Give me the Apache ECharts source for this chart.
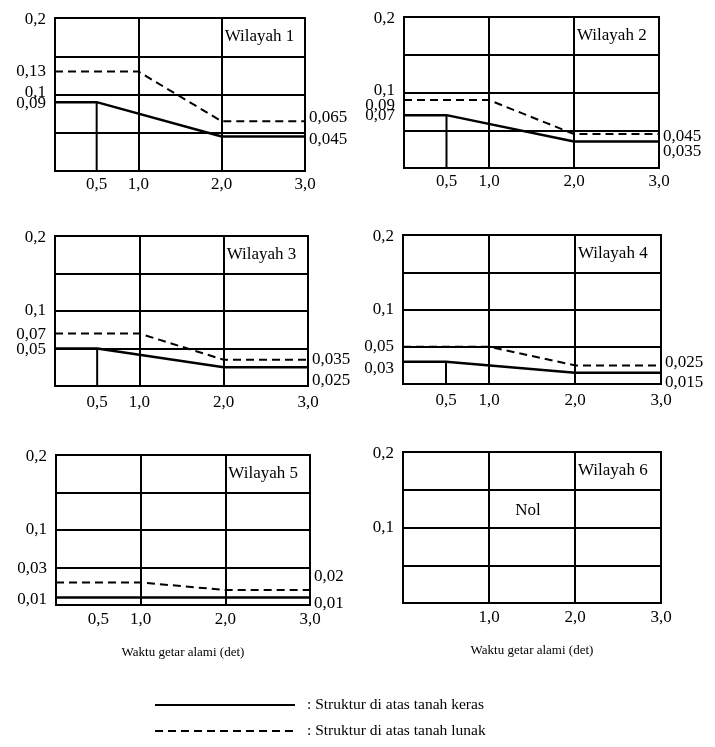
<!DOCTYPE html>
<html><head><meta charset="utf-8">
<script src="https://cdn.jsdelivr.net/npm/echarts@6/dist/echarts.min.js"></script>
<style>html,body{margin:0;padding:0;background:#fff}#c{width:715px;height:747px}</style>
</head><body><div id="c"></div>
<script>
// ---------- DATA ----------
const wilayahNames = ['Wilayah 1', 'Wilayah 2', 'Wilayah 3', 'Wilayah 4', 'Wilayah 5', 'Wilayah 6'];
const periodsKeras = [0, 0.5, 2.0, 3.0];   // Waktu getar alami (det)
const periodsLunak = [0, 1.0, 2.0, 3.0];
const kerasW1 = [0.09, 0.09, 0.045, 0.045];
const lunakW1 = [0.13, 0.13, 0.065, 0.065];
const kerasW2 = [0.07, 0.07, 0.035, 0.035];
const lunakW2 = [0.09, 0.09, 0.045, 0.045];
const kerasW3 = [0.05, 0.05, 0.025, 0.025];
const lunakW3 = [0.07, 0.07, 0.035, 0.035];
const kerasW4 = [0.03, 0.03, 0.015, 0.015];
const lunakW4 = [0.05, 0.05, 0.025, 0.025];
const kerasW5 = [0.01, 0.01, 0.01, 0.01];
const lunakW5 = [0.03, 0.03, 0.02, 0.02];
const kerasW6 = [];
const lunakW6 = [];
const leftTicksW1 = [0.2, 0.13, 0.1, 0.09];
const leftTicksW2 = [0.2, 0.1, 0.09, 0.07];
const leftTicksW3 = [0.2, 0.1, 0.07, 0.05];
const leftTicksW4 = [0.2, 0.1, 0.05, 0.03];
const leftTicksW5 = [0.2, 0.1, 0.03, 0.01];
const leftTicksW6 = [0.2, 0.1];
const rightTicksW1 = [0.065, 0.045];
const rightTicksW2 = [0.045, 0.035];
const rightTicksW3 = [0.035, 0.025];
const rightTicksW4 = [0.025, 0.015];
const rightTicksW5 = [0.02, 0.01];
const rightTicksW6 = [];
const xTicks = [0.5, 1.0, 2.0, 3.0];
const xTicksW6 = [1.0, 2.0, 3.0];
const centerNote = 'Nol';
const xAxisTitle = 'Waktu getar alami (det)';
const legendKeras = ': Struktur di atas tanah keras';
const legendLunak = ': Struktur di atas tanah lunak';

// ---------- LAYOUT (positions / label nudges, not data) ----------
const FONT = "'Liberation Serif','Times New Roman',serif";
const panels = [
  {keras: kerasW1, lunak: lunakW1, lt: leftTicksW1, rt: rightTicksW1, xt: xTicks, drop: true, xm: 5,
   g: {left: 55, top: 18, width: 250, height: 153}, ls: [2, 0, -2, 1], rs: [-4, 3]},
  {keras: kerasW2, lunak: lunakW2, lt: leftTicksW2, rt: rightTicksW2, xt: xTicks, drop: true, xm: 5,
   g: {left: 404, top: 17, width: 255, height: 151}, ls: [2, -2, 5, 0], rs: [3, 10]},
  {keras: kerasW3, lunak: lunakW3, lt: leftTicksW3, rt: rightTicksW3, xt: xTicks, drop: true, xm: 8,
   g: {left: 55, top: 236, width: 253, height: 150}, ls: [2, 0, 1, 1], rs: [0, 13]},
  {keras: kerasW4, lunak: lunakW4, lt: leftTicksW4, rt: rightTicksW4, xt: xTicks, drop: true, xm: 8,
   g: {left: 403, top: 235, width: 258, height: 149}, ls: [2, 0, 0, 7], rs: [-3, 10]},
  {keras: kerasW5, lunak: lunakW5, lt: leftTicksW5, rt: rightTicksW5, xt: xTicks, drop: false, xm: 6,
   g: {left: 56, top: 455, width: 254, height: 150}, ls: [2, 0, -14, 2], rs: [-13, 6], name: true},
  {keras: kerasW6, lunak: lunakW6, lt: leftTicksW6, rt: rightTicksW6, xt: xTicksW6, drop: false, xm: 6,
   g: {left: 403, top: 452, width: 258, height: 151}, ls: [2, 0], rs: [], name: true, note: true}
];

const fmt = v => String(v).replace('.', ',');
const near = (a, b) => Math.abs(a - b) < 1e-7;
function richFor(shifts) {
  const r = {};
  shifts.forEach((d, k) => {
    r['s' + k] = {fontFamily: FONT, fontSize: 17, color: '#000',
      padding: d >= 0 ? [2 * d, 0, 0, 0] : [0, 0, -2 * d, 0]};
  });
  return r;
}
function labelFormatter(ticks) {
  return function (v) {
    for (let k = 0; k < ticks.length; k++) {
      if (near(v, ticks[k])) return '{s' + k + '|' + fmt(ticks[k]) + '}';
    }
    return '';
  };
}

const grid = [], xAxis = [], yAxis = [], series = [], title = [];
const lineBlack = {color: '#000', width: 2};

panels.forEach((p, i) => {
  grid.push(Object.assign({show: true, borderColor: '#000', borderWidth: 2, backgroundColor: 'transparent'}, p.g));
  // x axis with split lines at whole seconds
  xAxis.push({type: 'value', gridIndex: i, position: 'bottom', min: 0, max: 3, interval: 1,
    axisLine: {show: false}, axisTick: {show: false}, axisLabel: {show: false},
    splitLine: {show: true, lineStyle: lineBlack}});
  // x axis with labels
  xAxis.push({type: 'value', gridIndex: i, position: 'bottom', offset: 0, min: 0, max: 3, interval: 0.5,
    axisLine: {show: false}, axisTick: {show: false}, splitLine: {show: false},
    axisLabel: {show: true, margin: p.xm, fontFamily: FONT, fontSize: 17, color: '#000',
      showMaxLabel: true, showMinLabel: true, hideOverlap: false,
      formatter: v => { for (const t of p.xt) if (near(v, t)) return t.toFixed(1).replace('.', ','); return ''; }},
    name: p.name ? xAxisTitle : '', nameLocation: 'middle', nameGap: 41,
    nameTextStyle: {fontFamily: FONT, fontSize: 13, color: '#000'}});
  // y grid lines
  yAxis.push({type: 'value', gridIndex: i, min: 0, max: 0.2, interval: 0.05,
    axisLine: {show: false}, axisTick: {show: false}, axisLabel: {show: false},
    splitLine: {show: true, lineStyle: lineBlack}});
  // left labels
  yAxis.push({type: 'value', gridIndex: i, min: 0, max: 0.2, interval: 0.005, position: 'left',
    axisLine: {show: false}, axisTick: {show: false}, splitLine: {show: false},
    axisLabel: {show: true, margin: 9, hideOverlap: false, showMaxLabel: true, showMinLabel: true,
      fontFamily: FONT, fontSize: 17, color: '#000',
      formatter: labelFormatter(p.lt), rich: richFor(p.ls)}});
  // right labels
  yAxis.push({type: 'value', gridIndex: i, min: 0, max: 0.2, interval: 0.005, position: 'right',
    axisLine: {show: false}, axisTick: {show: false}, splitLine: {show: false},
    axisLabel: {show: true, margin: 4, hideOverlap: false, showMaxLabel: true, showMinLabel: true,
      fontFamily: FONT, fontSize: 17, color: '#000',
      formatter: labelFormatter(p.rt), rich: richFor(p.rs)}});

  const xi = 2 * i, yi = 3 * i;
  if (p.keras.length) {
    series.push({type: 'line', name: 'keras', xAxisIndex: xi, yAxisIndex: yi,
      data: periodsKeras.map((x, k) => [x, p.keras[k]]), symbol: 'none', silent: true,
      itemStyle: {color: '#000'}, lineStyle: {color: '#000', width: 2.5, type: 'solid'}, z: 5});
  }
  if (p.lunak.length) {
    series.push({type: 'line', name: 'lunak', xAxisIndex: xi, yAxisIndex: yi,
      data: periodsLunak.map((x, k) => [x, p.lunak[k]]), symbol: 'none', silent: true,
      itemStyle: {color: '#000'}, lineStyle: {color: '#000', width: 2, type: [8, 5]}, z: 5});
  }
  if (p.drop) {
    series.push({type: 'line', name: 'drop', xAxisIndex: xi, yAxisIndex: yi,
      data: [[periodsKeras[1], 0], [periodsKeras[1], p.keras[1]]], symbol: 'none', silent: true,
      lineStyle: {color: '#000', width: 2}, z: 4});
  }
  title.push({text: wilayahNames[i], left: p.g.left + p.g.width * 2 / 3 + 3, top: p.g.top + 10, padding: 0,
    textStyle: {fontFamily: FONT, fontSize: 17, fontWeight: 'normal', color: '#000'}});
  if (p.note) {
    title.push({text: centerNote, left: p.g.left + p.g.width / 2 - 4, top: p.g.top + 50, padding: 0,
      textAlign: 'center',
      textStyle: {fontFamily: FONT, fontSize: 17, fontWeight: 'normal', color: '#000'}});
  }
});

const chart = echarts.init(document.getElementById('c'), null, {renderer: 'canvas'});
chart.setOption({
  backgroundColor: '#fff',
  animation: false,
  title: title,
  grid: grid,
  xAxis: xAxis,
  yAxis: yAxis,
  series: series,
  legend: {
    data: ['keras', 'lunak'], orient: 'vertical', left: 154, top: 697,
    itemWidth: 140, itemHeight: 14, itemGap: 10, selectedMode: false, padding: 0,
    itemStyle: {opacity: 0},
    formatter: n => n === 'keras' ? legendKeras : legendLunak,
    textStyle: {fontFamily: FONT, fontSize: 15.5, color: '#000', padding: [0, 0, 0, 7]}
  }
});
</script></body></html>
